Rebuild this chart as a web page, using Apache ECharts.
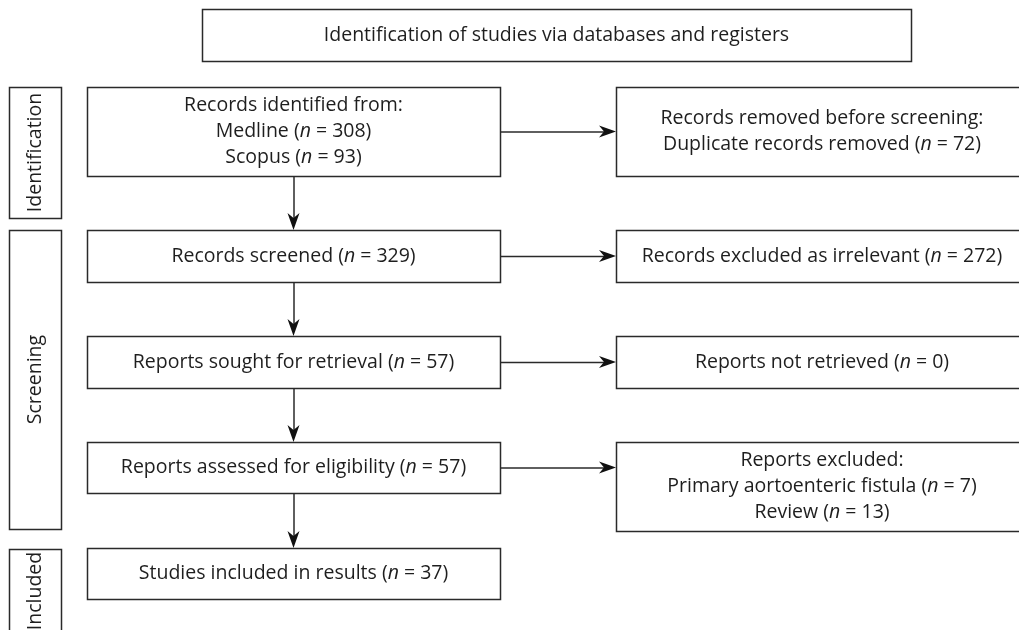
<!DOCTYPE html>
<html><head><meta charset="utf-8">
<script src="https://cdn.jsdelivr.net/npm/echarts@6/dist/echarts.min.js"></script>
<style>html,body{margin:0;padding:0;background:#fff}#c{width:1019px;height:630px}</style>
</head><body><div id="c"></div>
<script>
// ---- content ----
const headerLabel = 'Identification of studies via databases and registers';
const stageLabels = ['Identification', 'Screening', 'Included'];
const mainTexts = [
  ['Records identified from:', ['Medline', 308], ['Scopus', 93]],
  [['Records screened', 329]],
  [['Reports sought for retrieval', 57]],
  [['Reports assessed for eligibility', 57]],
  [['Studies included in results', 37]]
];
const sideTexts = [
  ['Records removed before screening:', ['Duplicate records removed', 72]],
  [['Records excluded as irrelevant', 272]],
  [['Reports not retrieved', 0]],
  ['Reports excluded:', ['Primary aortoenteric fistula', 7], ['Review', 13]]
];

// ---- layout (diagram coordinates) ----
const headerBox = [202, 9, 911, 61];
const stageBoxes = [[9, 87, 61, 218], [9, 230, 61, 529], [9, 549, 61, 633]];
const mainBoxes = [[87, 87, 500, 176], [87, 230, 500, 282], [87, 336, 500, 388], [87, 442, 500, 493], [87, 548, 500, 599]];
const sideBoxes = [[616, 87, 1028, 176], [616, 230, 1028, 282], [616, 336, 1028, 388], [616, 442, 1028, 531]];

const FONT = '"Open Sans", sans-serif';
const FS = 19.5;
const LH = 26;
const INK = '#1e1e1e';
const STROKE = '#2a2a2a';

function fmtLine(l) {
  if (typeof l === 'string') return l;
  return l[0] + ' ({i|n} = ' + l[1] + ')';
}
const boxes = [];
boxes.push({ r: headerBox, text: headerLabel, rot: 0 });
stageBoxes.forEach((r, i) => boxes.push({ r, text: stageLabels[i], rot: 1 }));
mainBoxes.forEach((r, i) => boxes.push({ r, text: mainTexts[i].map(fmtLine).join('\n'), rot: 0 }));
sideBoxes.forEach((r, i) => boxes.push({ r, text: sideTexts[i].map(fmtLine).join('\n'), rot: 0 }));

const boxData = boxes.map((b, i) => [b.r[0], b.r[1], b.r[2], b.r[3], i]);

const arrows = [];
for (let i = 0; i < mainBoxes.length - 1; i++) {
  const a = mainBoxes[i], b = mainBoxes[i + 1];
  const cx = (a[0] + a[2]) / 2;
  arrows.push([cx, a[3], cx, b[1]]);
}
for (let i = 0; i < sideBoxes.length; i++) {
  const a = mainBoxes[i];
  const cy = (a[1] + a[3]) / 2;
  arrows.push([a[2], cy, sideBoxes[i][0], cy]);
}

const chart = echarts.init(document.getElementById('c'), null, { renderer: 'canvas' });
chart.setOption({
  animation: false,
  backgroundColor: '#fff',
  grid: { left: 0, right: 0, top: 0, bottom: 0 },
  xAxis: { type: 'value', min: 0, max: 1019, show: false },
  yAxis: { type: 'value', min: 0, max: 630, inverse: true, show: false },
  series: [
    {
      type: 'custom',
      clip: false,
      data: boxData,
      renderItem: function (params, api) {
        const p1 = api.coord([api.value(0), api.value(1)]);
        const p2 = api.coord([api.value(2), api.value(3)]);
        const b = boxes[api.value(4)];
        const cx = (p1[0] + p2[0]) / 2, cy = (p1[1] + p2[1]) / 2;
        return {
          type: 'group',
          children: [
            { type: 'rect', shape: { x: Math.round(p1[0]) + 0.5, y: Math.round(p1[1]) + 0.5, width: Math.round(p2[0] - p1[0]), height: Math.round(p2[1] - p1[1]) },
              style: { fill: '#fff', stroke: STROKE, lineWidth: 1.5 } },
            { type: 'text', x: cx, y: cy, rotation: b.rot ? Math.PI / 2 : 0,
              style: { text: b.text, fill: INK, fontSize: FS, fontFamily: FONT, lineHeight: LH,
                align: 'center', verticalAlign: 'middle',
                rich: { i: { fontStyle: 'italic', fontSize: FS, fontFamily: FONT, lineHeight: LH, fill: INK } } } }
          ]
        };
      }
    },
    {
      type: 'custom',
      clip: false,
      data: arrows,
      renderItem: function (params, api) {
        const s = api.coord([api.value(0), api.value(1)]);
        const e = api.coord([api.value(2), api.value(3)]);
        const dx = e[0] - s[0], dy = e[1] - s[1];
        const len = Math.sqrt(dx * dx + dy * dy);
        const ux = dx / len, uy = dy / len, px = -uy, py = ux;
        const L = 17, W = 6, N = 12;
        const tip = [e[0], e[1]];
        const back1 = [e[0] - ux * L + px * W, e[1] - uy * L + py * W];
        const back2 = [e[0] - ux * L - px * W, e[1] - uy * L - py * W];
        const notch = [e[0] - ux * N, e[1] - uy * N];
        const off = 0.5;
        return {
          type: 'group',
          children: [
            { type: 'line', shape: { x1: s[0] + (uy ? off : 0), y1: s[1] + (ux ? off : 0), x2: notch[0] + (uy ? off : 0), y2: notch[1] + (ux ? off : 0) },
              style: { stroke: STROKE, lineWidth: 1.5 } },
            { type: 'polygon', shape: { points: [tip, back1, notch, back2] }, style: { fill: '#111' } }
          ]
        };
      }
    }
  ]
});
</script>
</body></html>
